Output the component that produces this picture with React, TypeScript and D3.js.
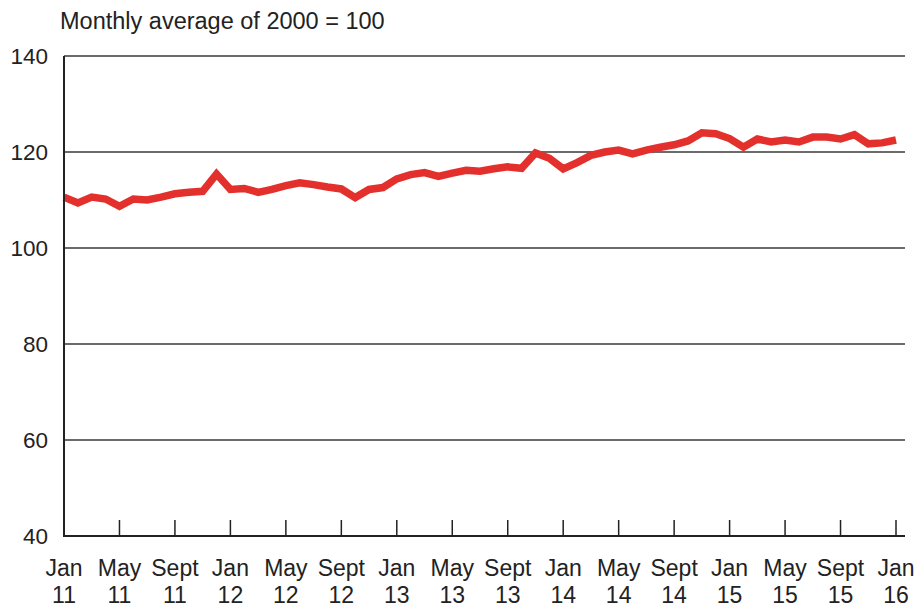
import React from "react";
import * as d3 from "d3";

// monthly index, Jan 2011 .. Jan 2016
const values = [
  110.6, 109.4, 110.6, 110.2, 108.7, 110.2, 110.0, 110.6, 111.3, 111.6, 111.8, 115.4,
  112.2, 112.4, 111.6, 112.2, 113.0, 113.6, 113.2, 112.7, 112.3, 110.5, 112.2, 112.6,
  114.4, 115.3, 115.7, 114.9, 115.6, 116.2, 116.0, 116.5, 116.9, 116.6, 119.8, 118.7,
  116.5, 117.8, 119.3, 120.0, 120.4, 119.6, 120.4, 121.0, 121.5, 122.3, 124.0, 123.8,
  122.8, 121.0, 122.7, 122.1, 122.5, 122.1, 123.1, 123.1, 122.7, 123.6, 121.7, 121.9,
  122.5,
];
const monthNames = ["Jan", "May", "Sept"];
const yTicks = [40, 60, 80, 100, 120, 140];
const title = "Monthly average of 2000 = 100";

const W = 918;
const H = 608;
const margin = { top: 56, right: 13, bottom: 72, left: 64 };

const App = () => {
  const x = d3
    .scaleLinear()
    .domain([0, values.length - 1])
    .range([margin.left, 896]);
  const y = d3
    .scaleLinear()
    .domain([40, 140])
    .range([H - margin.bottom, margin.top]);

  const line = d3
    .line<number>()
    .x((_, i) => x(i))
    .y((d) => y(d));

  // tick every 4 months
  const xTicks = d3.range(0, values.length, 4);
  const font = "'Liberation Sans', Arial, sans-serif";
  const right = W - margin.right;

  return (
    <svg
      width={W}
      height={H}
      style={{ position: "absolute", left: 0, top: 0, background: "#fff" }}
      fontFamily={font}
    >
      <text x={60} y={29} fontSize={23.5} fill="#222">
        {title}
      </text>

      {yTicks.map((t) => (
        <g key={t}>
          {t > 40 && (
            <line x1={margin.left} x2={right} y1={y(t)} y2={y(t)} stroke="#3a3a3a" strokeWidth={1.5} />
          )}
          <text x={48} y={y(t)} dy="0.36em" textAnchor="end" fontSize={22.5} fill="#222">
            {t}
          </text>
        </g>
      ))}

      <path d={line(values) || ""} fill="none" stroke="#e3302c" strokeWidth={7.5} strokeLinejoin="miter" />

      {/* axes */}
      <line x1={margin.left} x2={margin.left} y1={y(140)} y2={y(40) + 1} stroke="#222" strokeWidth={2} />
      <line x1={margin.left} x2={right} y1={y(40)} y2={y(40)} stroke="#222" strokeWidth={2} />

      {xTicks.map((i) => (
        <g key={i}>
          {i > 0 && <line x1={x(i)} x2={x(i)} y1={y(40)} y2={y(40) - 16} stroke="#222" strokeWidth={1.5} />}
          <text x={x(i)} y={576} textAnchor="middle" fontSize={23} fill="#222">
            {monthNames[(i / 4) % 3]}
          </text>
          <text x={x(i)} y={603} textAnchor="middle" fontSize={23} fill="#222">
            {11 + Math.floor(i / 12)}
          </text>
        </g>
      ))}
    </svg>
  );
};

export default App;
